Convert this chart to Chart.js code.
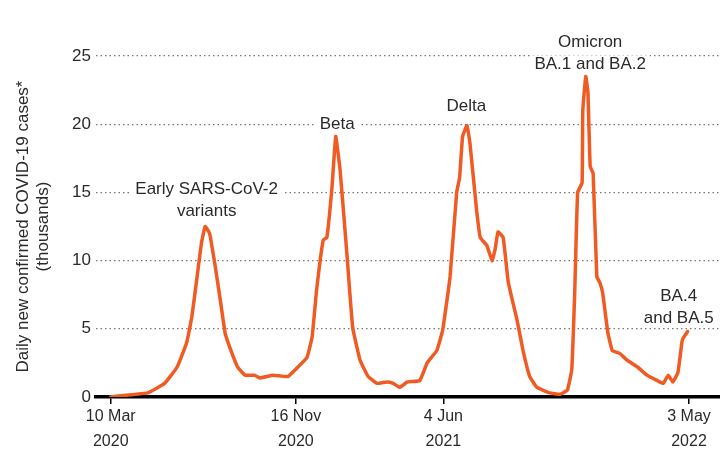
<!DOCTYPE html>
<html>
<head>
<meta charset="utf-8">
<script src="https://cdn.jsdelivr.net/npm/chart.js@4"></script>
<style>
  html, body { margin: 0; padding: 0; background: #fff; }
  canvas { display: block; }
</style>
</head>
<body>
<canvas id="chart" width="720" height="453"></canvas>
<script>
"use strict";

// days since 10 Mar 2020
var days = [0, 15, 50, 73, 90, 103, 110, 117, 123, 128, 134, 141, 148, 155, 161, 172, 182, 195,
    202, 220, 240, 252, 266, 273, 279, 288, 293, 300, 305, 311, 320, 328, 338, 349, 361, 374,
    383, 392, 402, 419, 429, 442, 450, 460, 469, 473, 477, 483, 487, 496, 501, 510, 517, 521,
    525, 532, 539, 551, 559, 568, 578, 595, 609, 619, 625, 629, 633, 639, 640, 644, 647, 650,
    654, 659, 663, 667, 674, 680, 690, 700, 714, 727, 741, 749, 756, 762, 769, 775, 782];

// daily new confirmed cases, thousands
var cases = [0, 0.1, 0.3, 1.0, 2.2, 4.0, 5.9, 8.8, 11.3, 12.5, 12.0, 9.8, 7.3, 4.7, 3.7, 2.2, 1.6, 1.6,
    1.4, 1.6, 1.5, 2.1, 2.9, 4.4, 7.8, 11.5, 11.7, 15.4, 19.1, 16.6, 10.6, 5.1, 2.7, 1.5, 1.0, 1.1,
    1.0, 0.7, 1.1, 1.2, 2.5, 3.4, 4.9, 8.8, 15.0, 16.1, 19.1, 19.9, 18.6, 13.7, 11.7, 11.1, 10.0, 10.8,
    12.1, 11.7, 8.4, 5.6, 3.4, 1.5, 0.7, 0.3, 0.2, 0.5, 2.0, 7.6, 15.0, 15.7, 21.0, 23.5, 22.3, 16.9,
    16.4, 8.8, 8.4, 7.6, 4.7, 3.4, 3.2, 2.7, 2.2, 1.6, 1.2, 1.0, 1.6, 1.1, 1.8, 4.2, 4.8];

var tickDays = [0, 251, 451, 784];
var tickLabels = [['10 Mar', '2020'], ['16 Nov', '2020'], ['4 Jun', '2021'], ['3 May', '2022']];

var variantLabels = [['Early SARS-CoV-2', 'variants'], ['Beta'], ['Delta'], ['Omicron', 'BA.1 and BA.2'], ['BA.4', 'and BA.5']];
var variantDays = [130, 307, 482, 650, 770];
var variantValues = [15.2, 20.0, 21.3, 26.0, 7.4];

var FONT = "'Liberation Sans', Arial, sans-serif";
var TEXT = '#2a2a2a';

var variantPlugin = {
    id: 'variantLabels',
    beforeDatasetsDraw: function (chart) {
        var ctx = chart.ctx;
        var x = chart.scales.x, y = chart.scales.y;
        ctx.save();
        ctx.font = '17px ' + FONT;
        ctx.textAlign = 'center';
        ctx.textBaseline = 'middle';
        variantLabels.forEach(function (lines, i) {
            var px = x.getPixelForValue(variantDays[i]);
            var py = y.getPixelForValue(variantValues[i]);
            lines.forEach(function (line, j) {
                var ly = py + j * 22;
                var w = ctx.measureText(line).width;
                ctx.fillStyle = '#fff';
                ctx.fillRect(px - w / 2 - 4, ly - 9, w + 8, 18);
                ctx.fillStyle = TEXT;
                ctx.fillText(line, px, ly);
            });
        });
        ctx.restore();
    }
};

var points = days.map(function (d, i) { return {x: d, y: cases[i]}; });

new Chart(document.getElementById('chart'), {
    type: 'line',
    data: {
        datasets: [{
            data: points,
            borderColor: '#ef5b22',
            borderWidth: 3.5,
            pointRadius: 0,
            tension: 0.1,
            borderJoinStyle: 'round',
            borderCapStyle: 'round',
        }]
    },
    options: {
        responsive: false,
        animation: false,
        layout: { padding: { top: 56, right: 0, left: 0, bottom: 0 } },
        plugins: {
            legend: { display: false },
            tooltip: { enabled: false },
        },
        scales: {
            x: {
                type: 'linear',
                min: -20,
                max: 826,
                afterFit: function (scale) { scale.height = 56; },
                afterBuildTicks: function (scale) {
                    scale.ticks = tickDays.map(function (d) { return {value: d}; });
                },
                ticks: {
                    autoSkip: false,
                    maxRotation: 0,
                    padding: 0,
                    color: TEXT,
                    font: { family: FONT, size: 16, lineHeight: 1.55 },
                    callback: function (v) {
                        var i = tickDays.indexOf(v);
                        return i >= 0 ? tickLabels[i] : '';
                    }
                },
                grid: {
                    drawOnChartArea: false,
                    drawTicks: true,
                    tickLength: 7,
                    color: '#000',
                    lineWidth: 1.5,
                },
                border: { display: true, color: '#000', width: 3.5 },
            },
            y: {
                min: 0,
                max: 25,
                afterFit: function (scale) { scale.width = 96; },
                ticks: {
                    stepSize: 5,
                    padding: 5,
                    color: TEXT,
                    font: { family: FONT, size: 17 },
                },
                grid: {
                    drawTicks: false,
                    color: '#777',
                    lineWidth: 1.3,
                },
                border: { display: false, dash: [1.5, 3] },
                title: {
                    display: true,
                    text: ['Daily new confirmed COVID-19 cases*', '(thousands)'],
                    color: TEXT,
                    padding: { top: 13, bottom: 0 },
                    font: { family: FONT, size: 17, lineHeight: 1.18 },
                },
            }
        }
    },
    plugins: [variantPlugin]
});
</script>
</body>
</html>
